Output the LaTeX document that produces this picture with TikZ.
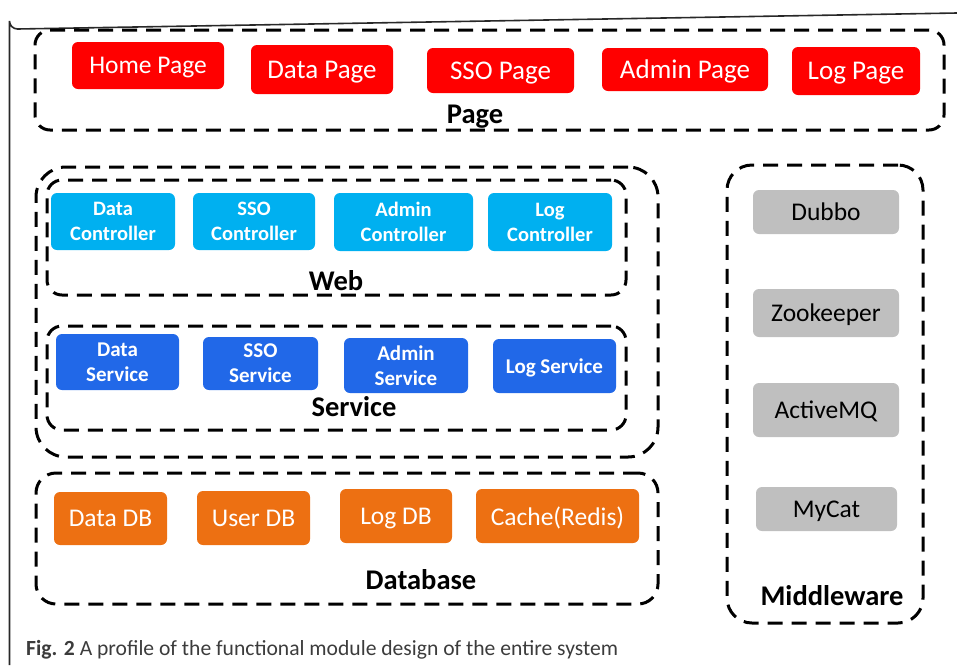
\documentclass[tikz,border=0pt]{standalone}
\usepackage{fontspec}
\setmainfont{Carlito}
\definecolor{pgred}{RGB}{255,0,0}
\definecolor{ctcyan}{RGB}{0,176,240}
\definecolor{svblue}{RGB}{33,104,232}
\definecolor{dborange}{RGB}{237,112,18}
\definecolor{mwgray}{RGB}{191,191,191}
\definecolor{framegray}{RGB}{40,40,40}
\definecolor{capgray}{RGB}{60,60,60}
\tikzset{
  group/.style={draw=black, line width=3pt, dash pattern=on 15pt off 9pt, rounded corners=#1, inner sep=0pt},
  group/.default=15pt,
  box/.style={rounded corners=6pt, inner sep=0pt, align=center, text=white, text depth=0pt},
  pagebox/.style={box, fill=pgred, font=\fontsize{27}{30}\selectfont},
  ctrlbox/.style={box, fill=ctcyan, font=\bfseries\fontsize{20.5}{25}\selectfont},
  svcbox/.style={box, fill=svblue, font=\bfseries\fontsize{21}{25}\selectfont},
  dbbox/.style={box, fill=dborange, font=\fontsize{25.5}{30}\selectfont},
  mwbox/.style={box, fill=mwgray, text=black, font=\fontsize{25.5}{30}\selectfont},
  grouplabel/.style={font=\bfseries\fontsize{28.5}{30}\selectfont, anchor=base, inner sep=0pt},
}
\begin{document}
\begin{tikzpicture}[x=1pt, y=-1pt]
\useasboundingbox (0,0) rectangle (957,665);
% outer frame
\draw[framegray, line width=1.6pt] (9.5,665) -- (9.5,21) arc[start angle=180, end angle=90, radius=8] -- (957,13);

% Page group
\node[group, minimum width=909pt, minimum height=100pt] (pagegrp) at (489.5,80) {};
\node[grouplabel] (pagelbl) at (475,123) {Page};
\node[pagebox, minimum width=152pt, minimum height=47pt, font=\fontsize{25.5}{30}\selectfont] (home) at (148,65.5) {Home Page};
\node[pagebox, minimum width=142pt, minimum height=49pt] (datap) at (322,69.5) {Data Page};
\node[pagebox, minimum width=147pt, minimum height=45pt] (ssop) at (500.5,70.5) {SSO Page};
\node[pagebox, minimum width=166pt, minimum height=43pt] (adminp) at (685,69.5) {Admin Page};
\node[pagebox, minimum width=128pt, minimum height=48pt] (logp) at (856,71) {Log Page};

% Web + Service outer group
\node[group=30pt, minimum width=622pt, minimum height=290pt] (wsgrp) at (347,312) {};
% Web group
\node[group, minimum width=579pt, minimum height=115pt] (webgrp) at (336.5,237.5) {};
\node[grouplabel] (weblbl) at (336,290) {Web};
\node[ctrlbox, minimum width=124pt, minimum height=57pt] (datac) at (113,221.5) {Data\\Controller};
\node[ctrlbox, minimum width=122pt, minimum height=57pt] (ssoc) at (254,221.5) {SSO\\Controller};
\node[ctrlbox, minimum width=139pt, minimum height=58pt] (adminc) at (403.5,222) {Admin\\Controller};
\node[ctrlbox, minimum width=124pt, minimum height=58pt] (logc) at (550,222) {Log\\Controller};

% Service group
\node[group, minimum width=579pt, minimum height=104pt] (svcgrp) at (336.5,378) {};
\node[grouplabel] (svclbl) at (354,416) {Service};
\node[svcbox, minimum width=123pt, minimum height=56pt] (datas) at (117.5,362) {Data\\Service};
\node[svcbox, minimum width=115pt, minimum height=53pt] (ssos) at (260.5,363.5) {SSO\\Service};
\node[svcbox, minimum width=124pt, minimum height=55pt] (admins) at (406,365.5) {Admin\\Service};
\node[svcbox, minimum width=123pt, minimum height=54pt] (logs) at (554.5,366) {Log Service};

% Database group
\node[group=20pt, minimum width=622pt, minimum height=131pt] (dbgrp) at (347,538.5) {};
\node[grouplabel] (dblbl) at (421,589) {Database};
\node[dbbox, minimum width=113pt, minimum height=53pt] (datadb) at (110.5,518.5) {Data DB};
\node[dbbox, minimum width=113pt, minimum height=54pt] (userdb) at (253.5,518) {User DB};
\node[dbbox, minimum width=112pt, minimum height=54pt] (logdb) at (396,516) {Log DB};
\node[dbbox, minimum width=163pt, minimum height=54pt] (cache) at (557.5,516) {Cache(Redis)};

% Middleware group
\node[group=25pt, minimum width=196pt, minimum height=458pt] (mwgrp) at (825,394) {};
\node[grouplabel] (mwlbl) at (832,605) {Middleware};
\node[mwbox, minimum width=146pt, minimum height=44pt] (dubbo) at (826,212) {Dubbo};
\node[mwbox, minimum width=146pt, minimum height=48pt] (zoo) at (826,313) {Zookeeper};
\node[mwbox, minimum width=146pt, minimum height=54pt] (amq) at (826,410) {ActiveMQ};
\node[mwbox, minimum width=141pt, minimum height=44pt] (mycat) at (826.5,509) {MyCat};

% caption
\node[anchor=base west, inner sep=0pt, text=capgray, font=\fontsize{21.6}{24}\selectfont] (caption) at (26,655) {\textbf{Fig. 2} A profile of the functional module design of the entire system};
\end{tikzpicture}
\end{document}
